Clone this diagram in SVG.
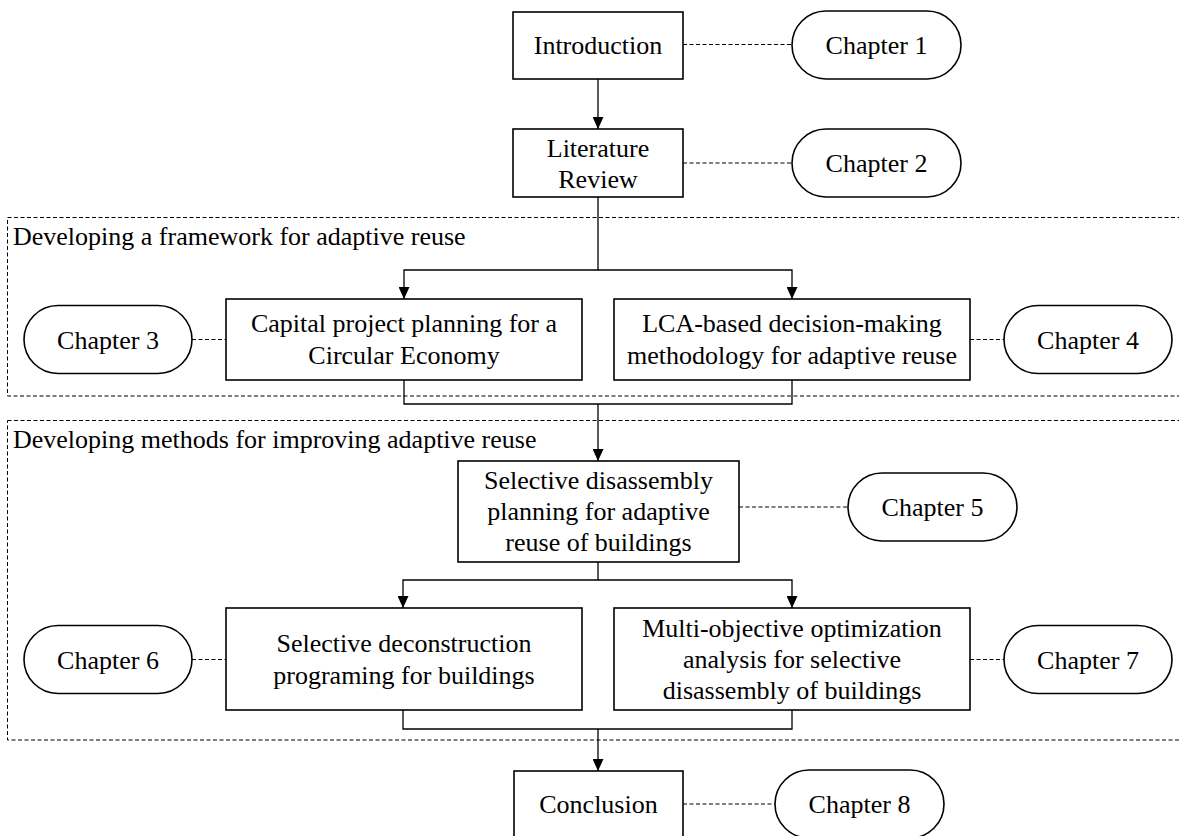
<svg xmlns="http://www.w3.org/2000/svg" width="1179" height="836" viewBox="0 0 1179 836">
<style>
  text { font-family: "Liberation Serif", "Times New Roman", serif; font-size: 26px; fill: #000; text-anchor: middle; }
  .label { text-anchor: start; }
  .box { fill: #fff; stroke: #000; stroke-width: 1.6; }
  .pill { fill: #fff; stroke: #000; stroke-width: 1.6; }
  .group { fill: none; stroke: #000; stroke-width: 1; stroke-dasharray: 4 2.5; }
  .flow { fill: none; stroke: #000; stroke-width: 1.3; }
  .link { fill: none; stroke: #000; stroke-width: 1; stroke-dasharray: 4 2.5; }
</style>
<defs>
  <marker id="arr" markerUnits="userSpaceOnUse" markerWidth="12" markerHeight="11" refX="12" refY="5.5" orient="auto">
    <path d="M0,0 L12,5.5 L0,11 z" fill="#000"/>
  </marker>
</defs>
<rect width="1179" height="836" fill="#fff"/>

<g id="group-framework">
  <rect class="group" x="7.5" y="217.5" width="1180" height="178.5"/>
  <text class="label" x="13" y="245">Developing a framework for adaptive reuse</text>
</g>
<g id="group-methods">
  <rect class="group" x="7.5" y="420.5" width="1180" height="319.5"/>
  <text class="label" x="13" y="448">Developing methods for improving adaptive reuse</text>
</g>

<g id="connectors">
  <line class="flow" x1="598" y1="79" x2="598" y2="129" marker-end="url(#arr)"/>
  <path class="flow" d="M598,197 V270 H404 V299" marker-end="url(#arr)"/>
  <path class="flow" d="M598,270 H792 V299" marker-end="url(#arr)"/>
  <path class="flow" d="M404,380 V404 H792 V380"/>
  <path class="flow" d="M598,404 V461" marker-end="url(#arr)"/>
  <path class="flow" d="M598,562 V580 H403 V608" marker-end="url(#arr)"/>
  <path class="flow" d="M598,580 H792 V608" marker-end="url(#arr)"/>
  <path class="flow" d="M403,710 V729 H792 V710"/>
  <path class="flow" d="M598,729 V771" marker-end="url(#arr)"/>
  <line class="link" x1="683" y1="44.5" x2="792" y2="44.5"/>
  <line class="link" x1="683" y1="163" x2="792" y2="163"/>
  <line class="link" x1="192" y1="339.5" x2="226" y2="339.5"/>
  <line class="link" x1="970" y1="339.5" x2="1004" y2="339.5"/>
  <line class="link" x1="739" y1="507" x2="848" y2="507"/>
  <line class="link" x1="192" y1="659.5" x2="226" y2="659.5"/>
  <line class="link" x1="970" y1="659.5" x2="1004" y2="659.5"/>
  <line class="link" x1="683" y1="804" x2="775" y2="804"/>
</g>

<g id="introduction">
  <rect class="box" x="513" y="12" width="170" height="67"/>
  <text x="598" y="54">Introduction</text>
</g>
<g id="chapter1">
  <rect class="pill" x="792" y="11" width="169" height="68" rx="34"/>
  <text x="876.5" y="54">Chapter 1</text>
</g>
<g id="literature">
  <rect class="box" x="513" y="129" width="170" height="68"/>
  <text x="598" y="157">Literature</text>
  <text x="598" y="188">Review</text>
</g>
<g id="chapter2">
  <rect class="pill" x="792" y="129" width="169" height="68" rx="34"/>
  <text x="876.5" y="172">Chapter 2</text>
</g>
<g id="capital">
  <rect class="box" x="226" y="299" width="356" height="81"/>
  <text x="404" y="332">Capital project planning for a</text>
  <text x="404" y="364">Circular Economy</text>
</g>
<g id="chapter3">
  <rect class="pill" x="24" y="305.5" width="168" height="68" rx="34"/>
  <text x="108" y="348.5">Chapter 3</text>
</g>
<g id="lca">
  <rect class="box" x="614" y="299" width="356" height="81"/>
  <text x="792" y="332">LCA-based decision-making</text>
  <text x="792" y="364">methodology for adaptive reuse</text>
</g>
<g id="chapter4">
  <rect class="pill" x="1004" y="305.5" width="168" height="68" rx="34"/>
  <text x="1088" y="348.5">Chapter 4</text>
</g>
<g id="disassembly">
  <rect class="box" x="458" y="461" width="281" height="101"/>
  <text x="598.5" y="489">Selective disassembly</text>
  <text x="598.5" y="520">planning for adaptive</text>
  <text x="598.5" y="551">reuse of buildings</text>
</g>
<g id="chapter5">
  <rect class="pill" x="848" y="473" width="169" height="68" rx="34"/>
  <text x="932.5" y="516">Chapter 5</text>
</g>
<g id="deconstruction">
  <rect class="box" x="226" y="608" width="356" height="102"/>
  <text x="404" y="652">Selective deconstruction</text>
  <text x="404" y="684">programing for buildings</text>
</g>
<g id="chapter6">
  <rect class="pill" x="24" y="625.5" width="168" height="68" rx="34"/>
  <text x="108" y="668.5">Chapter 6</text>
</g>
<g id="multiobjective">
  <rect class="box" x="614" y="608" width="356" height="102"/>
  <text x="792" y="637">Multi-objective optimization</text>
  <text x="792" y="668">analysis for selective</text>
  <text x="792" y="699">disassembly of buildings</text>
</g>
<g id="chapter7">
  <rect class="pill" x="1004" y="625.5" width="168" height="68" rx="34"/>
  <text x="1088" y="668.5">Chapter 7</text>
</g>
<g id="conclusion">
  <rect class="box" x="514" y="771" width="169" height="68"/>
  <text x="598.5" y="813">Conclusion</text>
</g>
<g id="chapter8">
  <rect class="pill" x="775" y="770" width="169" height="68" rx="34"/>
  <text x="859.5" y="813">Chapter 8</text>
</g>
</svg>
